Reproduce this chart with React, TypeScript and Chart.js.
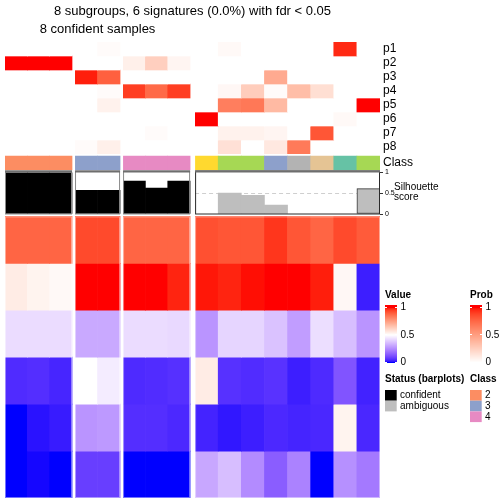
import React, { useEffect, useRef } from "react";
import { Chart, registerables } from "chart.js";

Chart.register(...registerables);

// ---------------- data ----------------
const GROUP_SIZES = [3, 2, 3, 8];
const SAMPLE_CLASS = [2, 2, 2, 3, 3, 4, 4, 4, 6, 5, 5, 3, 8, 7, 1, 5];
const SAMPLE_STATUS = [
  "confident", "confident", "confident", "confident", "confident", "confident", "confident", "confident",
  "ambiguous", "ambiguous", "ambiguous", "ambiguous", "ambiguous", "ambiguous", "ambiguous", "ambiguous",
];
const SILHOUETTE = [0.98, 0.98, 0.98, 0.56, 0.56, 0.78, 0.61, 0.78, 0, 0.49, 0.44, 0.2, 0, 0, 0, 0.6];
const SIL_TICKS = [0, 0.5, 1];
const SIL_REF = 0.5;

const PROB_LABELS = ["p1", "p2", "p3", "p4", "p5", "p6", "p7", "p8"];
const P1 = [0, 0, 0, 0, 0.02, 0, 0, 0, 0, 0.03, 0, 0, 0, 0, 0.95, 0];
const P2 = [1, 1, 1, 0, 0, 0.08, 0.25, 0.05, 0, 0, 0, 0, 0, 0, 0, 0];
const P3 = [0, 0, 0, 0.97, 0.78, 0, 0, 0, 0, 0, 0, 0.44, 0, 0, 0, 0];
const P4 = [0, 0, 0, 0, 0.02, 0.9, 0.74, 0.9, 0, 0.04, 0.26, 0.02, 0.34, 0.17, 0, 0];
const P5 = [0, 0, 0, 0, 0.07, 0, 0, 0, 0, 0.65, 0.68, 0.36, 0, 0, 0, 1];
const P6 = [0, 0, 0, 0, 0, 0, 0, 0, 1, 0, 0, 0, 0, 0, 0.03, 0];
const P7 = [0, 0, 0, 0, 0, 0, 0.02, 0, 0, 0.07, 0.07, 0.05, 0, 0.82, 0, 0];
const P8 = [0, 0, 0, 0.02, 0.08, 0, 0, 0, 0, 0.16, 0, 0.12, 0.67, 0, 0, 0];
const PROB_ROWS = [P1, P2, P3, P4, P5, P6, P7, P8];

const SIG1 = [0.88, 0.88, 0.88, 0.93, 0.93, 0.88, 0.88, 0.88, 0.92, 0.91, 0.91, 0.96, 0.91, 0.88, 0.93, 0.9];
const SIG2 = [0.55, 0.53, 0.515, 1, 1, 1, 1, 0.98, 0.99, 0.98, 0.995, 1, 1, 0.985, 0.52, 0.03];
const SIG3 = [0.425, 0.425, 0.425, 0.315, 0.315, 0.425, 0.425, 0.42, 0.27, 0.41, 0.41, 0.37, 0.29, 0.43, 0.36, 0.27];
const SIG4 = [0.05, 0.055, 0.04, 0.5, 0.46, 0.048, 0.052, 0.058, 0.55, 0.06, 0.052, 0.062, 0.03, 0.048, 0.13, 0.035];
const SIG5 = [0, 0.015, 0.025, 0.27, 0.28, 0.055, 0.055, 0.045, 0.037, 0.02, 0.03, 0.045, 0.038, 0.043, 0.53, 0.043];
const SIG6 = [0, 0.005, 0, 0.085, 0.085, 0, 0, 0, 0.31, 0.36, 0.25, 0.15, 0.23, 0, 0.26, 0.21];
const SIG_ROWS = [SIG1, SIG2, SIG3, SIG4, SIG5, SIG6];

const VALUE_TICKS = [0, 0.5, 1];
const PROB_TICKS = [0, 0.5, 1];
const TITLE = "8 subgroups, 6 signatures (0.0%) with fdr < 0.05";
const SUBTITLE = "8 confident samples";

const CLASS_COLORS: Record<number, string> = {
  1: "#66C2A5", 2: "#FC8D62", 3: "#8DA0CB", 4: "#E78AC3",
  5: "#A6D854", 6: "#FFD92F", 7: "#E5C494", 8: "#B3B3B3",
};
const STATUS_COLORS: Record<string, string> = { confident: "#000000", ambiguous: "#BEBEBE" };
const STATUS_LABELS = ["confident", "ambiguous"];

// ---------------- layout (pixels / styles) ----------------
const FONT = '"Liberation Sans", Arial, Helvetica, sans-serif';
const PAD = { left: 5, top: 42, right: 124, bottom: 6 };
const COL_PX = [22.33, 22.5, 22.33, 23.1];
const GAP_PX = [3, 3, 5, 0];
const SECTION_PX = { prob: 112, cls: 16.5, sil: 44, main: 283.5 };
const CLASS_BAR = [0.03, 0.88];

// ---------------- colour ramps (LAB interpolation) ----------------
type RGB = [number, number, number];
const toLin = (c: number) => {
  c /= 255;
  return c <= 0.04045 ? c / 12.92 : Math.pow((c + 0.055) / 1.055, 2.4);
};
const toSrgb = (c: number) => {
  const v = c <= 0.0031308 ? 12.92 * c : 1.055 * Math.pow(Math.max(c, 0), 1 / 2.4) - 0.055;
  return Math.round(Math.min(1, Math.max(0, v)) * 255);
};
const WX = 0.95047, WZ = 1.08883;
function rgb2lab(c: RGB): RGB {
  const R = toLin(c[0]), G = toLin(c[1]), B = toLin(c[2]);
  const X = (0.4124 * R + 0.3576 * G + 0.1805 * B) / WX;
  const Y = 0.2126 * R + 0.7152 * G + 0.0722 * B;
  const Z = (0.0193 * R + 0.1192 * G + 0.9505 * B) / WZ;
  const f = (t: number) => (t > 0.008856 ? Math.cbrt(t) : 7.787 * t + 16 / 116);
  const fx = f(X), fy = f(Y), fz = f(Z);
  return [116 * fy - 16, 500 * (fx - fy), 200 * (fy - fz)];
}
function lab2rgb(l: RGB): RGB {
  const fy = (l[0] + 16) / 116, fx = fy + l[1] / 500, fz = fy - l[2] / 200;
  const inv = (t: number) => (t * t * t > 0.008856 ? t * t * t : (t - 16 / 116) / 7.787);
  const X = inv(fx) * WX, Y = inv(fy), Z = inv(fz) * WZ;
  const R = 3.2406 * X - 1.5372 * Y - 0.4986 * Z;
  const G = -0.9689 * X + 1.8758 * Y + 0.0415 * Z;
  const B = 0.0557 * X - 0.204 * Y + 1.057 * Z;
  return [toSrgb(R), toSrgb(G), toSrgb(B)];
}
function ramp(stops: number[], colors: RGB[]) {
  const labs = colors.map(rgb2lab);
  return (v: number) => {
    const x = Math.min(stops[stops.length - 1], Math.max(stops[0], v));
    let i = 0;
    while (i < stops.length - 2 && x > stops[i + 1]) i++;
    const t = (x - stops[i]) / (stops[i + 1] - stops[i]);
    const a = labs[i], b = labs[i + 1];
    const c = lab2rgb([a[0] + (b[0] - a[0]) * t, a[1] + (b[1] - a[1]) * t, a[2] + (b[2] - a[2]) * t]);
    return `rgb(${c[0]},${c[1]},${c[2]})`;
  };
}
const valueColor = ramp([0, 0.5, 1], [[0, 0, 255], [255, 255, 255], [255, 0, 0]]);
const probColor = ramp([0, 1], [[255, 255, 255], [255, 0, 0]]);

// ---------------- slices ----------------
const slices = (() => {
  let start = 0;
  return GROUP_SIZES.map((n, g) => {
    const s = { id: `x${g}`, n, start, g };
    start += n;
    return s;
  });
})();

function buildDatasets() {
  const ds: any[] = [];
  const base = {
    type: "bar",
    grouped: false,
    barPercentage: 1,
    categoryPercentage: 1,
    borderWidth: 0,
  };
  slices.forEach((s) => {
    const idx = Array.from({ length: s.n }, (_, k) => s.start + k);
    SIG_ROWS.forEach((row, r) => {
      ds.push({
        ...base,
        xAxisID: s.id,
        yAxisID: "yMain",
        data: idx.map((i, k) => ({ x: k + 0.5, y: [r, r + 1] })),
        backgroundColor: idx.map((i) => valueColor(row[i])),
      });
    });
    PROB_ROWS.forEach((row, r) => {
      ds.push({
        ...base,
        xAxisID: s.id,
        yAxisID: "yProb",
        data: idx.map((i, k) => ({ x: k + 0.5, y: [r, r + 1] })),
        backgroundColor: idx.map((i) => probColor(row[i])),
      });
    });
    ds.push({
      ...base,
      xAxisID: s.id,
      yAxisID: "yClass",
      data: idx.map((i, k) => ({ x: k + 0.5, y: CLASS_BAR })),
      backgroundColor: idx.map((i) => CLASS_COLORS[SAMPLE_CLASS[i]]),
    });
    const silIdx = idx.map((i, k) => ({ i, k })).filter((o) => SILHOUETTE[o.i] > 0);
    ds.push({
      ...base,
      xAxisID: s.id,
      yAxisID: "ySil",
      borderSkipped: false,
      data: silIdx.map((o) => ({ x: o.k + 0.5, y: [0, SILHOUETTE[o.i]] })),
      backgroundColor: silIdx.map((o) => STATUS_COLORS[SAMPLE_STATUS[o.i]]),
      borderColor: "#333333",
      borderWidth: silIdx.map((o) =>
        SAMPLE_STATUS[o.i] === "ambiguous" && SILHOUETTE[o.i] > SIL_REF ? 1 : 0
      ),
    });
  });
  return ds;
}

function buildScales() {
  const scales: any = {};
  const hidden = {
    type: "linear",
    display: false,
    grid: { display: false },
    ticks: { display: false },
    afterBuildTicks: (sc: any) => {
      sc.ticks = [];
    },
  };
  slices.forEach((s) => {
    scales[s.id] = {
      ...hidden,
      axis: "x",
      position: "bottom",
      stack: "cols",
      stackWeight: s.n * COL_PX[s.g] + GAP_PX[s.g],
      min: 0,
      max: s.n + GAP_PX[s.g] / COL_PX[s.g],
    };
  });
  // left-stacked axes are laid out bottom-up, so list them bottom section first
  scales.yMain = { ...hidden, axis: "y", position: "left", stack: "rows", stackWeight: SECTION_PX.main, min: -0.04, max: SIG_ROWS.length, reverse: true };
  scales.ySil = { ...hidden, axis: "y", position: "left", stack: "rows", stackWeight: SECTION_PX.sil, min: -0.024, max: 1.036 };
  scales.yClass = { ...hidden, axis: "y", position: "left", stack: "rows", stackWeight: SECTION_PX.cls, min: 0, max: 1 };
  scales.yProb = { ...hidden, axis: "y", position: "left", stack: "rows", stackWeight: SECTION_PX.prob, min: 0, max: PROB_ROWS.length, reverse: true };
  return scales;
}

const decorations = {
  id: "decorations",
  beforeDatasetsDraw(chart: any) {
    const ctx = chart.ctx;
    const ys = chart.scales.ySil;
    const y = Math.round(ys.getPixelForValue(SIL_REF)) + 0.5;
    ctx.save();
    ctx.strokeStyle = "#cfcfcf";
    ctx.lineWidth = 1;
    ctx.setLineDash([4, 3]);
    slices.forEach((s) => {
      const xs = chart.scales[s.id];
      ctx.beginPath();
      ctx.moveTo(xs.getPixelForValue(0), y);
      ctx.lineTo(xs.getPixelForValue(s.n), y);
      ctx.stroke();
    });
    ctx.restore();
  },
  afterDatasetsDraw(chart: any) {
    const ctx = chart.ctx;
    const area = chart.chartArea;
    const { yMain, yProb, yClass, ySil } = chart.scales;
    ctx.save();

    // main heatmap slice borders
    slices.forEach((s) => {
      const xs = chart.scales[s.id];
      const l = xs.getPixelForValue(0), r = xs.getPixelForValue(s.n);
      const t = yMain.getPixelForValue(0), b = yMain.getPixelForValue(SIG_ROWS.length);
      ctx.strokeStyle = "rgba(255,255,255,0.45)";
      ctx.lineWidth = 1;
      ctx.strokeRect(l + 0.5, t + 0.5, r - l - 1, b - t - 1);
    });

    // silhouette panels
    slices.forEach((s) => {
      const xs = chart.scales[s.id];
      const l = xs.getPixelForValue(0), r = xs.getPixelForValue(s.n);
      const t = ySil.top, b = ySil.getPixelForValue(0);
      const allConf = Array.from({ length: s.n }, (_, k) => SAMPLE_STATUS[s.start + k]).every((st) => st === "confident");
      ctx.strokeStyle = allConf ? "#8a8a8a" : "#2a2a2a";
      ctx.lineWidth = 1;
      ctx.strokeRect(l + 0.5, t + 0.5, r - l - 1, b - t);
      ctx.fillStyle = "#6e6e6e";
      ctx.fillRect(l, t, r - l, 2);
    });

    // silhouette axis
    const axX = area.right;
    ctx.strokeStyle = "#333";
    ctx.fillStyle = "#000";
    ctx.font = `7px ${FONT}`;
    ctx.textAlign = "left";
    ctx.textBaseline = "middle";
    SIL_TICKS.forEach((v) => {
      const y = Math.round(ySil.getPixelForValue(v)) + 0.5;
      ctx.beginPath();
      ctx.moveTo(axX, y);
      ctx.lineTo(axX + 3, y);
      ctx.stroke();
      ctx.fillText(String(v), axX + 5, y);
    });
    ctx.font = `10px ${FONT}`;
    ctx.textBaseline = "alphabetic";
    const midY = ySil.getPixelForValue(SIL_REF);
    ctx.fillText("Silhouette", axX + 14, midY - 2.5);
    ctx.fillText("score", axX + 14, midY + 7.5);

    // row labels
    ctx.font = `12px ${FONT}`;
    ctx.textBaseline = "middle";
    PROB_LABELS.forEach((lab, i) => {
      ctx.fillText(lab, area.right + 3, yProb.getPixelForValue(i + 0.5));
    });
    ctx.fillText("Class", area.right + 3, yClass.getPixelForValue((CLASS_BAR[0] + CLASS_BAR[1]) / 2));

    // titles
    ctx.font = `13px ${FONT}`;
    ctx.textAlign = "center";
    ctx.textBaseline = "alphabetic";
    ctx.fillText(TITLE, (area.left + area.right) / 2, 15);
    const confSlices = slices.filter((s) =>
      Array.from({ length: s.n }, (_, k) => SAMPLE_STATUS[s.start + k]).every((st) => st === "confident")
    );
    const cl = chart.scales[confSlices[0].id].getPixelForValue(0);
    const lastC = confSlices[confSlices.length - 1];
    const cr = chart.scales[lastC.id].getPixelForValue(lastC.n);
    ctx.fillText(SUBTITLE, (cl + cr) / 2, 33);

    // legends
    const L1 = 385, L2 = 470;
    ctx.textAlign = "left";
    ctx.font = `bold 10px ${FONT}`;
    ctx.fillText("Value", L1, 298);
    ctx.fillText("Prob", L2, 298);
    const barTop = 305, barBot = 363, barW = 12, y1 = 307.5, y0 = 362.5;
    const drawBar = (x: number, fn: (v: number) => string, ticks: number[]) => {
      for (let y = barTop; y < barBot; y++) {
        const v = (y0 - (y + 0.5)) / (y0 - y1);
        ctx.fillStyle = fn(v);
        ctx.fillRect(x, y, barW, 1);
      }
      ctx.strokeStyle = "#ffffff";
      ctx.lineWidth = 1;
      ctx.fillStyle = "#000";
      ctx.font = `10px ${FONT}`;
      ctx.textBaseline = "middle";
      ticks.forEach((v) => {
        const y = Math.round(y0 - v * (y0 - y1)) - 0.5;
        ctx.beginPath();
        ctx.moveTo(x, y);
        ctx.lineTo(x + 2, y);
        ctx.moveTo(x + barW - 2, y);
        ctx.lineTo(x + barW, y);
        ctx.stroke();
        ctx.fillText(String(v), x + barW + 3.5, y0 - v * (y0 - y1));
      });
    };
    drawBar(L1, valueColor, VALUE_TICKS);
    drawBar(L2, probColor, PROB_TICKS);

    ctx.textBaseline = "alphabetic";
    ctx.font = `bold 10px ${FONT}`;
    ctx.fillText("Status (barplots)", L1, 382);
    ctx.fillText("Class", L2, 382);
    const boxW = 11.7, boxH = 10.7, boxTop = 390;
    ctx.font = `10px ${FONT}`;
    ctx.textBaseline = "middle";
    STATUS_LABELS.forEach((st, i) => {
      const y = boxTop + i * boxH;
      ctx.fillStyle = STATUS_COLORS[st];
      ctx.fillRect(L1, y, boxW, boxH);
      ctx.fillStyle = "#000";
      ctx.fillText(st, L1 + 15, y + boxH / 2);
    });
    const legendClasses = Array.from(
      new Set(SAMPLE_CLASS.filter((_, i) => SAMPLE_STATUS[i] === "confident"))
    ).sort((a, b) => a - b);
    legendClasses.forEach((c, i) => {
      const y = boxTop + i * boxH;
      ctx.fillStyle = CLASS_COLORS[c];
      ctx.fillRect(L2, y, boxW, boxH);
      ctx.fillStyle = "#000";
      ctx.fillText(String(c), L2 + 15, y + boxH / 2);
    });
    ctx.restore();
  },
};

export default function App() {
  const ref = useRef<HTMLCanvasElement | null>(null);
  useEffect(() => {
    if (!ref.current) return;
    const chart = new Chart(ref.current, {
      type: "bar",
      data: { datasets: buildDatasets() },
      options: {
        animation: false,
        responsive: false,
        devicePixelRatio: 1,
        events: [],
        layout: { padding: PAD },
        plugins: { legend: { display: false }, tooltip: { enabled: false }, title: { display: false } },
        scales: buildScales(),
      } as any,
      plugins: [decorations],
    } as any);
    return () => chart.destroy();
  }, []);
  return (
    <div style={{ position: "fixed", left: 0, top: 0, width: 504, height: 504, background: "#fff" }}>
      <canvas ref={ref} width={504} height={504} style={{ display: "block", width: 504, height: 504 }} />
    </div>
  );
}
